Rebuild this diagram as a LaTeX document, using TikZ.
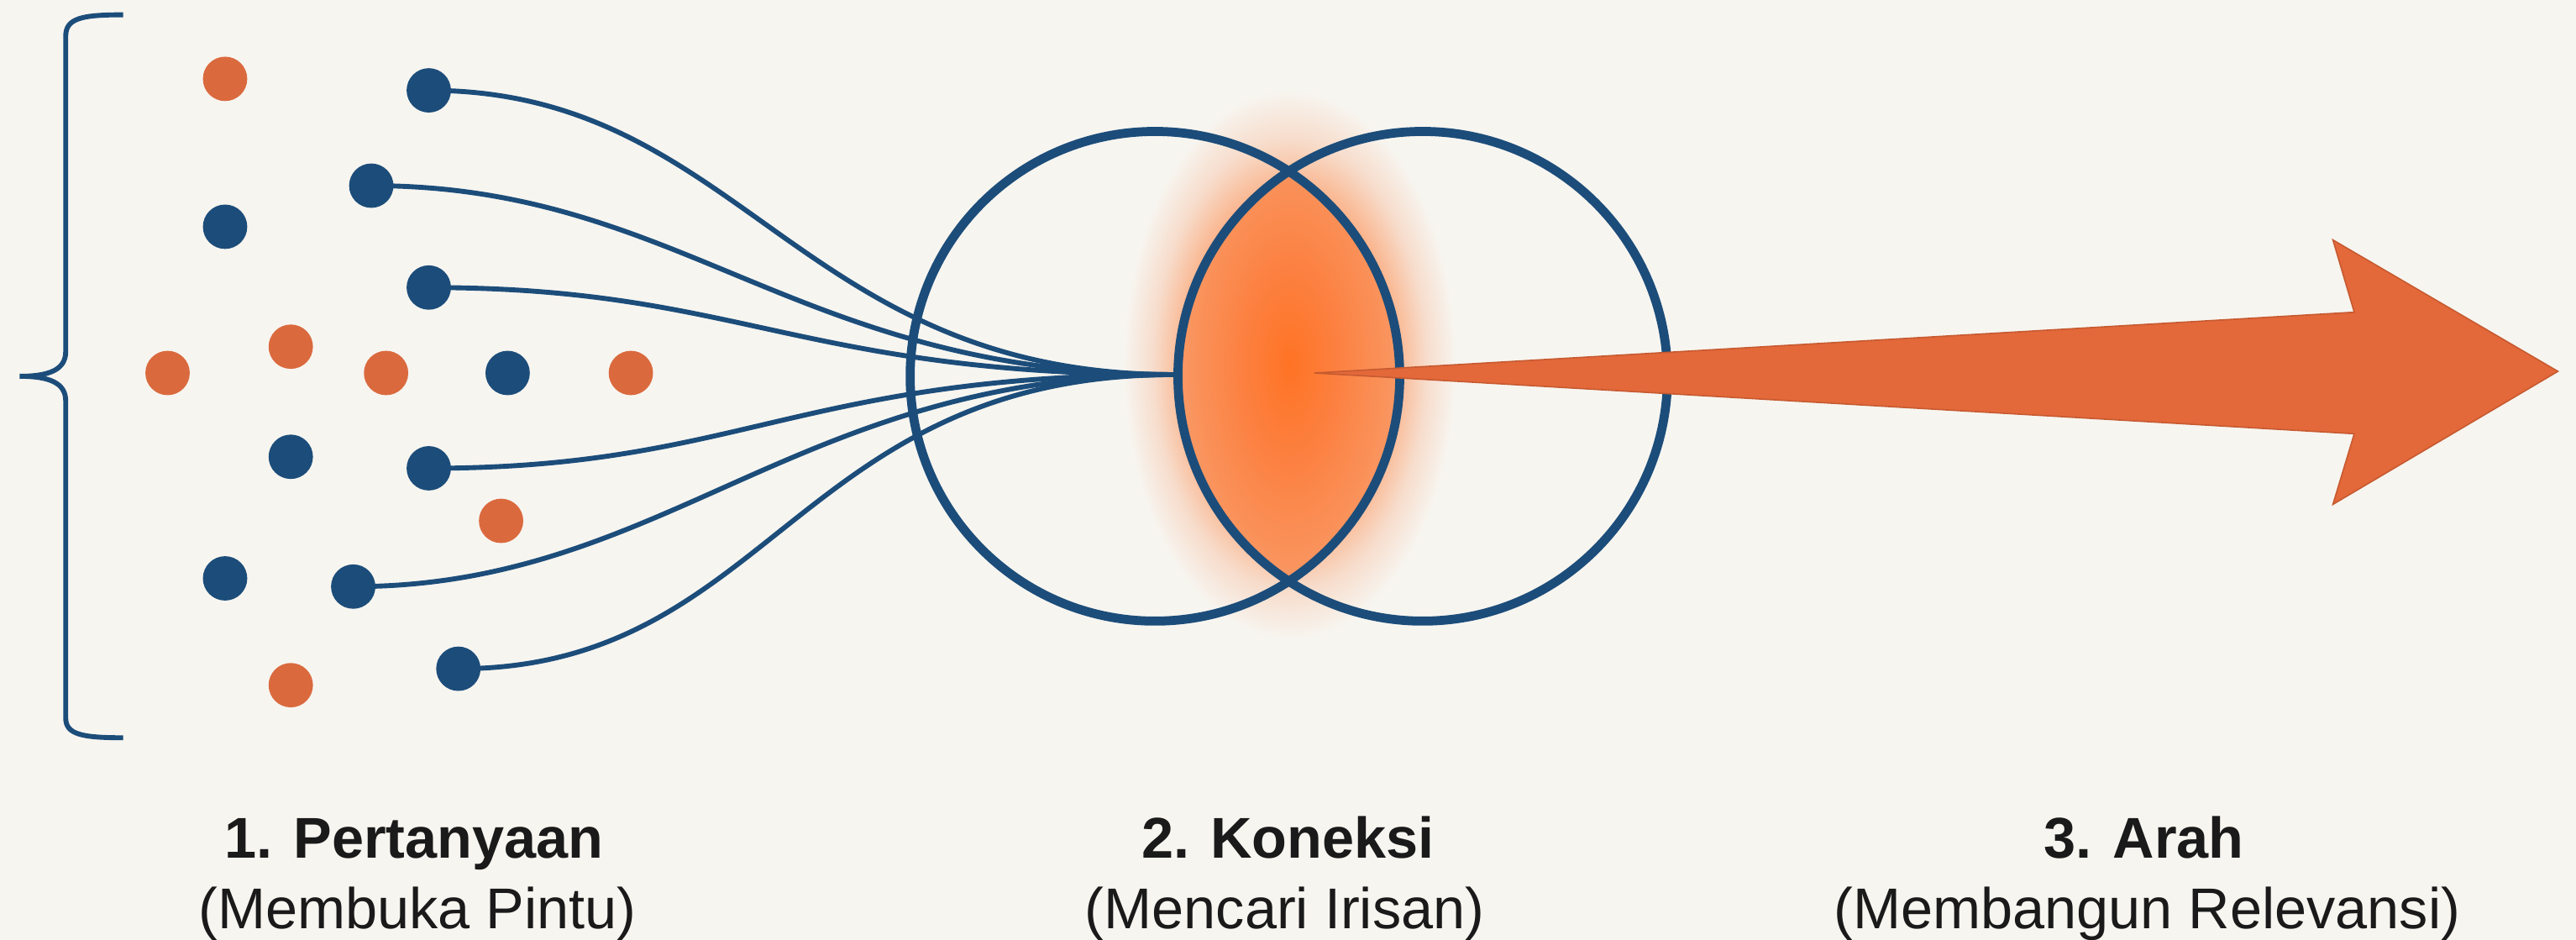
\documentclass[tikz,border=0pt]{standalone}
\usepackage{fontspec}
\setmainfont{Liberation Sans}
\definecolor{bg}{HTML}{F7F5F0}
\definecolor{navy}{HTML}{1C4D7A}
\definecolor{dotor}{HTML}{DA6A3E}
\definecolor{arr}{HTML}{E3683A}
\definecolor{arrline}{HTML}{C65A30}
\definecolor{txt}{HTML}{1A1A1A}
\definecolor{g0}{HTML}{FF7324}
\definecolor{g1}{HTML}{FC8040}
\definecolor{g2}{HTML}{F8A070}
\definecolor{h1}{HTML}{FAB48C}
\definecolor{h2}{HTML}{F7DCCB}
\pgfdeclareradialshading{lensglow}{\pgfpoint{0bp}{0bp}}{color(0bp)=(g0); color(9bp)=(g1); color(25bp)=(g2); color(50bp)=(g2)}
\pgfdeclareradialshading{haloglow}{\pgfpoint{0bp}{0bp}}{color(0bp)=(g1); color(14bp)=(h1); color(18bp)=(h2); color(22bp)=(bg); color(50bp)=(bg)}
\tikzset{
  bdot/.style={circle, fill=navy, minimum size=27pt, inner sep=0pt},
  odot/.style={circle, fill=dotor, minimum size=27pt, inner sep=0pt},
  ring/.style={circle, draw=navy, line width=5.5pt, minimum size=298pt, inner sep=0pt},
  fiber/.style={draw=navy, line width=3pt},
  ttl/.style={font=\fontsize{35}{40}\selectfont\bfseries, text=txt, anchor=base, inner sep=0pt},
  sub/.style={font=\fontsize{35}{40}\selectfont, text=txt, anchor=base, inner sep=0pt}
}
\begin{document}
\begin{tikzpicture}[x=1pt, y=-1pt]
\fill[bg] (0,0) rectangle (1568,572);
\useasboundingbox (0,0) rectangle (1568,572);
% glow
\shade[shading=haloglow] (785,222) ellipse [x radius=115pt, y radius=190pt];
\begin{scope}
  \clip (703,229) circle [radius=149pt];
  \clip (866,229) circle [radius=149pt];
  \shade[shading=lensglow] (785,222) ellipse [x radius=80pt, y radius=160pt];
\end{scope}
% rings
\node[ring] (L) at (703,229) {};
\node[ring] (R) at (866,229) {};
\coordinate (conv) at (715,228);
% dots
\node[odot] (o1) at (137,48) {};
\node[odot] (o2) at (177,211) {};
\node[odot] (o3) at (102,227) {};
\node[odot] (o4) at (235,227) {};
\node[odot] (o5) at (384,227) {};
\node[odot] (o6) at (305,317) {};
\node[odot] (o7) at (177,417) {};
\node[bdot] (b1) at (261,55) {};
\node[bdot] (b2) at (226,113) {};
\node[bdot] (b3) at (137,138) {};
\node[bdot] (b4) at (261,175) {};
\node[bdot] (b5) at (309,227) {};
\node[bdot] (b6) at (177,278) {};
\node[bdot] (b7) at (261,285) {};
\node[bdot] (b8) at (137,352) {};
\node[bdot] (b9) at (215,357) {};
\node[bdot] (b10) at (279,407) {};
% fibers
\foreach \n in {b1,b2,b4,b7,b9,b10}{
  \draw[fiber] (\n.center) .. controls +(190,0) and +(-230,0) .. (conv);
}
% arrow
\coordinate (tail) at (800,227);
\coordinate (tip) at (1557,226);
\filldraw[fill=arr, draw=arrline, line width=0.8pt, line join=miter]
  (tail) -- (1433,190) -- (1420,146) -- (tip) -- (1420,307) -- (1433,264) -- cycle;
% brace
\draw[navy, line width=3pt]
  (75,9) .. controls (50,9) and (40,11) .. (40,22) -- (40,214)
  .. controls (40,225) and (30,229) .. (12,229)
  .. controls (30,229) and (40,233) .. (40,244) -- (40,437)
  .. controls (40,447) and (50,449) .. (75,449);
% labels
\node[ttl] (t1) at (252,522) {1. Pertanyaan};
\node[sub] (s1) at (254,565) {(Membuka Pintu)};
\node[ttl] (t2) at (784,522) {2. Koneksi};
\node[sub] (s2) at (782,565) {(Mencari Irisan)};
\node[ttl] (t3) at (1305,522) {3. Arah};
\node[sub] (s3) at (1307,565) {(Membangun Relevansi)};
\end{tikzpicture}
\end{document}
